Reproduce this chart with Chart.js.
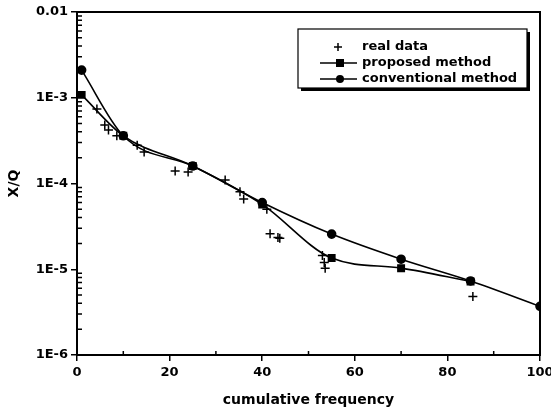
<!DOCTYPE html>
<html>
<head>
<meta charset="utf-8">
<script src="https://cdn.jsdelivr.net/npm/chart.js@4"></script>
<style>
  html, body { margin: 0; padding: 0; background: #fff; }
  #wrap { width: 551px; height: 410px; }
</style>
</head>
<body>
<div id="wrap"><canvas id="myChart" width="551" height="410"></canvas></div>
<script>
const realX = [4.3, 6, 6.8, 8.6, 13, 14.5, 21.2, 24, 32, 35.2, 36, 41, 41.7, 43.4, 43.8, 53, 53.4, 53.6, 85.5];
const realY = [7.4e-4, 4.8e-4, 4.2e-4, 3.6e-4, 2.8e-4, 2.33e-4, 1.4e-4, 1.36e-4, 1.1e-4, 8e-5, 6.6e-5, 5e-5, 2.6e-5, 2.35e-5, 2.3e-5, 1.45e-5, 1.2e-5, 1.03e-5, 4.8e-6];

const propX = [1, 10, 25, 40, 55, 70, 85];
const propY = [1.08e-3, 3.6e-4, 1.6e-4, 5.7e-5, 1.35e-5, 1.03e-5, 7.2e-6];

const convX = [1, 10, 25, 40, 55, 70, 85, 100];
const convY = [2.1e-3, 3.6e-4, 1.6e-4, 6.0e-5, 2.57e-5, 1.31e-5, 7.3e-6, 3.7e-6];

const xTicks = [0, 20, 40, 60, 80, 100];
const yTicks = [1e-6, 1e-5, 1e-4, 1e-3, 1e-2];
const yTickLabels = ['1E-6', '1E-5', '1E-4', '1E-3', '0.01'];

const legendLabels = ['real data', 'proposed method', 'conventional method'];

const pts = (xs, ys) => xs.map((x, i) => ({x: x, y: ys[i]}));
const font = '"DejaVu Sans", Verdana, sans-serif';

// inward minor ticks + legend box
const extras = {
    id: 'extras',
    afterDraw(chart) {
        const c = chart.ctx;
        const xs = chart.scales.x, ys = chart.scales.y, a = chart.chartArea;
        c.save();
        c.strokeStyle = '#000';
        c.lineWidth = 1.5;
        c.beginPath();
        for (let v = 10; v < 100; v += 20) {
            const px = xs.getPixelForValue(v);
            c.moveTo(px, a.bottom); c.lineTo(px, a.bottom - 4);
        }
        for (let e = -6; e < -2; e++) {
            for (let m = 2; m <= 9; m++) {
                const py = ys.getPixelForValue(m * Math.pow(10, e));
                c.moveTo(a.left, py); c.lineTo(a.left + 5, py);
            }
        }
        c.stroke();

        // legend
        const lx = 298, ly = 29, lw = 229, lh = 59;
        c.fillStyle = '#000';
        c.fillRect(lx + 3, ly + 3, lw, lh);
        c.fillStyle = '#fff';
        c.fillRect(lx, ly, lw, lh);
        c.lineWidth = 1.2;
        c.strokeRect(lx, ly, lw, lh);

        c.font = 'bold 13px ' + font;
        c.textBaseline = 'middle';
        c.fillStyle = '#000';
        const rows = [47, 63, 79];
        c.lineWidth = 1.5;
        c.beginPath();
        c.moveTo(334, rows[0]); c.lineTo(342, rows[0]);
        c.moveTo(338, rows[0] - 4); c.lineTo(338, rows[0] + 4);
        c.stroke();
        for (let i = 1; i < 3; i++) {
            c.beginPath();
            c.moveTo(320, rows[i]); c.lineTo(357, rows[i]);
            c.stroke();
            if (i === 1) c.fillRect(336, rows[i] - 4, 8, 8);
            else { c.beginPath(); c.arc(340, rows[i], 4, 0, Math.PI * 2); c.fill(); }
        }
        legendLabels.forEach((t, i) => c.fillText(t, 362, rows[i]));
        c.restore();
    }
};

let ctx = document.getElementById('myChart');
new Chart(ctx, {
    type: 'scatter',
    data: {
        datasets: [{
            label: legendLabels[0],
            data: pts(realX, realY),
            showLine: false,
            pointStyle: 'cross',
            pointRadius: 4.5,
            borderColor: '#000',
            borderWidth: 1.5
        }, {
            label: legendLabels[1],
            data: pts(propX, propY),
            showLine: true,
            cubicInterpolationMode: 'monotone',
            pointStyle: 'rect',
            pointRadius: 4.5,
            borderColor: '#000',
            backgroundColor: '#000',
            borderWidth: 1.6
        }, {
            label: legendLabels[2],
            data: pts(convX, convY),
            showLine: true,
            cubicInterpolationMode: 'monotone',
            pointStyle: 'circle',
            pointRadius: 4,
            borderColor: '#000',
            backgroundColor: '#000',
            borderWidth: 1.6
        }]
    },
    options: {
        responsive: false,
        animation: false,
        layout: { padding: { left: 0, top: 12, right: 11, bottom: 0 } },
        plugins: { legend: { display: false }, tooltip: { enabled: false } },
        scales: {
            x: {
                type: 'linear',
                min: 0, max: 100,
                afterFit: s => { s.height = 55; s.paddingRight = 0; s.paddingLeft = 0; },
                afterBuildTicks: s => { s.ticks = xTicks.map(v => ({value: v})); },
                ticks: { color: '#000', font: { family: font, size: 13, weight: 'bold' }, padding: 4, maxRotation: 0 },
                grid: { drawOnChartArea: false, color: '#000', lineWidth: 1.5, tickLength: 6 },
                border: { color: '#000', width: 2 },
                title: { display: true, text: 'cumulative frequency', color: '#000',
                         font: { family: font, size: 14, weight: 'bold' }, padding: { top: 0, bottom: 1 } }
            },
            x2: {
                type: 'linear', position: 'top', min: 0, max: 100,
                afterFit: s => { s.height = 0; },
                ticks: { display: false }, grid: { display: false },
                border: { color: '#000', width: 2 }
            },
            y: {
                type: 'logarithmic',
                min: 1e-6, max: 1e-2,
                afterFit: s => { s.width = 77; s.paddingTop = 0; s.paddingBottom = 0; },
                afterBuildTicks: s => { s.ticks = yTicks.map(v => ({value: v})); },
                ticks: {
                    color: '#000', font: { family: font, size: 13, weight: 'bold' }, padding: 3,
                    callback: (v) => yTickLabels[yTicks.findIndex(t => Math.abs(t - v) / t < 1e-6)]
                },
                grid: { drawOnChartArea: false, color: '#000', lineWidth: 1.5, tickLength: 6 },
                border: { color: '#000', width: 2 },
                title: { display: true, text: 'X/Q', color: '#000',
                         font: { family: font, size: 14, weight: 'bold' }, padding: { top: 6, bottom: 0 } }
            },
            y2: {
                type: 'logarithmic', position: 'right', min: 1e-6, max: 1e-2,
                afterFit: s => { s.width = 0; },
                ticks: { display: false }, grid: { display: false },
                border: { color: '#000', width: 2 }
            }
        }
    },
    plugins: [extras]
});
</script>
</body>
</html>
